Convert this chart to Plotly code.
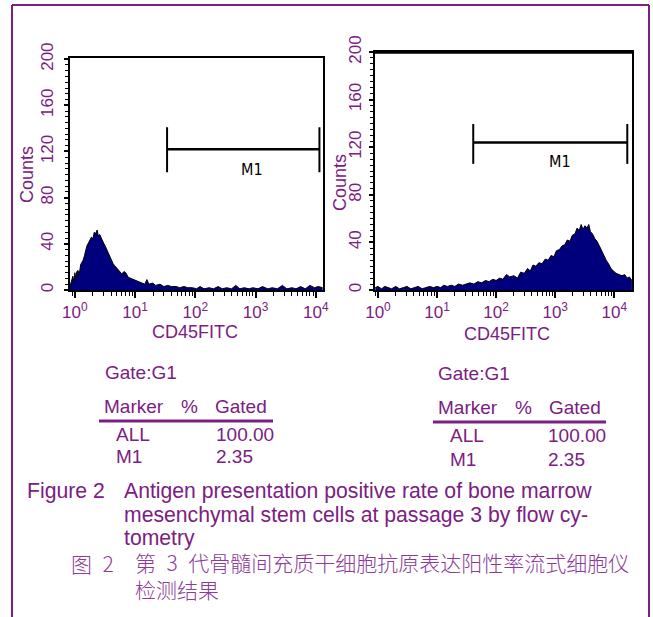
import math
import plotly.graph_objects as go

PURPLE = "#7b2082"
NAVY = "#00007c"
W, H = 653, 617

# ---------------- data ----------------
fl_left = [0.83, 0.88, 0.93, 0.97, 1.0, 1.04, 1.08, 1.13, 1.18, 1.25, 1.38, 1.45, 1.58, 1.73,
           1.9, 2.0, 2.1, 2.25, 2.35, 2.45, 2.6, 2.75, 2.9, 3.05, 3.2, 3.4, 3.6, 3.85, 4.1,
           4.3, 4.6, 5.0, 5.5, 6.0, 6.6, 7.0, 7.7, 8.5, 9.3, 10.5, 11.5, 12.8, 14.5, 15.7,
           17.0, 19.5, 22, 26, 30, 35, 40, 48, 55, 65, 75, 90, 105, 120, 140, 170, 200, 240,
           280, 330, 400, 470, 550, 650, 780, 900, 1100, 1300, 1600, 1900, 2300, 2800, 3300,
           4000, 4700, 5600, 6700, 8000, 9500, 11000, 13000]
counts_left = [3, 7, 12, 6, 15, 10, 16, 17, 13, 22, 26, 30, 38, 42,
               46, 44, 50, 49, 52, 47, 48, 45, 43, 40, 38, 35, 32, 28, 25,
               23, 21, 19, 17, 14, 16, 15, 11, 10, 9, 8, 7, 6, 5, 9,
               5, 6, 4, 5, 3, 4, 3, 3, 2, 3, 2, 2, 1, 3, 1, 2, 1, 3,
               1, 2, 1, 4, 1, 2, 1, 2, 1, 3, 1, 2, 1, 4, 1,
               2, 1, 3, 1, 4, 2, 3, 2]

fl_right = [0.9, 1.0, 1.15, 1.3, 1.5, 1.7, 2.0, 2.3, 2.7, 3.1, 3.6, 4.2, 4.8, 5.6, 6.5, 7.5,
            8.7, 10, 11.5, 13, 15, 17.5, 20, 23, 27, 31, 36, 42, 49, 57, 66, 76, 88, 100,
            115, 130, 150, 170, 200, 230, 260, 300, 340, 380, 420, 470, 530, 600, 680, 760,
            850, 950, 1050, 1180, 1300, 1450, 1600, 1780, 1950, 2150, 2350, 2550, 2750, 2950,
            3200, 3450, 3700, 3950, 4300, 4700, 5100, 5600, 6100, 6700, 7300, 8000, 8800,
            9700, 10700, 12000, 13500, 15000, 16500, 18000, 19900]
counts_right = [2, 3, 1, 3, 2, 1, 3, 1, 2, 3, 1, 2, 3, 1, 2, 3,
                2, 3, 2, 4, 3, 4, 3, 5, 4, 5, 6, 5, 7, 6, 8, 7, 9, 8,
                10, 9, 13, 11, 12, 10, 15, 14, 18, 16, 21, 20, 23, 22, 26, 25,
                29, 28, 33, 34, 37, 38, 42, 41, 46, 47, 52, 50, 55, 51,
                54, 52, 55, 49, 47, 43, 41, 37, 33, 30, 25, 22, 18,
                16, 14, 13, 12, 13, 10, 11, 8]

y_ticks = [0, 40, 80, 120, 160, 200]
decades = [1, 10, 100, 1000, 10000]
decade_labels = ["10<sup>0</sup>", "10<sup>1</sup>", "10<sup>2</sup>", "10<sup>3</sup>", "10<sup>4</sup>"]
minor_x = [k * 10 ** n for n in range(-1, 5) for k in range(2, 10)]

m1_left = [34, 11500]
m1_left_level = 122
m1_left_span = [102, 141]
m1_right = [41, 16600]
m1_right_level = 124
m1_right_span = [106, 139.5]
m1_left_label_pos = [870, 104]
m1_right_label_pos = [1200, 108]

gate_label = "Gate:G1"
table_header = ["Marker", "%", "Gated"]
table_markers = ["ALL", "M1"]
table_gated = ["100.00", "2.35"]

caption_label_en = "Figure 2"
caption_en = ["Antigen presentation positive rate of bone marrow",
              "mesenchymal stem cells at passage 3 by flow cy-",
              "tometry"]
caption_label_zh = "图\u20022"
caption_zh = ["第\u20023\u2002代骨髓间充质干细胞抗原表达阳性率流式细胞仪", "检测结果"]

# ---------------- figure ----------------
FONT = "Arial, Liberation Sans, sans-serif"
fig = go.Figure()


def px_x(p):
    return p / W


def px_y(p):
    return 1 - p / H


panels = [
    dict(fl=fl_left, counts=counts_left, m1=m1_left, lvl=m1_left_level, span=m1_left_span,
         lab=m1_left_label_pos, xa="x", ya="y"),
    dict(fl=fl_right, counts=counts_right, m1=m1_right, lvl=m1_right_level, span=m1_right_span,
         lab=m1_right_label_pos, xa="x2", ya="y2"),
]

for p in panels:
    fig.add_trace(go.Scatter(x=p["fl"], y=p["counts"], mode="lines", fill="tozeroy",
                             fillcolor=NAVY, line=dict(color="black", width=1),
                             xaxis=p["xa"], yaxis=p["ya"], hoverinfo="skip"))
    fig.add_trace(go.Scatter(x=p["m1"], y=[p["lvl"], p["lvl"]], mode="lines",
                             line=dict(color="black", width=2.5),
                             xaxis=p["xa"], yaxis=p["ya"], hoverinfo="skip"))
    for xe in p["m1"]:
        fig.add_trace(go.Scatter(x=[xe, xe], y=p["span"], mode="lines",
                                 line=dict(color="black", width=2),
                                 xaxis=p["xa"], yaxis=p["ya"], hoverinfo="skip"))
    fig.add_annotation(x=math.log10(p["lab"][0]), y=p["lab"][1], xref=p["xa"], yref=p["ya"],
                       text="M1", showarrow=False,
                       font=dict(family="Liberation Sans Narrow, DejaVu Sans Condensed, Arial",
                                 size=16, color="black"))

common_x = dict(type="log", tickmode="array", tickvals=decades, ticktext=decade_labels,
                ticks="outside", ticklen=6, tickwidth=1.5, tickcolor="black",
                showline=True, linecolor="black", linewidth=2, mirror=True,
                showgrid=False, zeroline=False, automargin=False,
                tickfont=dict(family=FONT, size=17, color=PURPLE),
                minor=dict(tickmode="array", tickvals=minor_x, ticks="outside", ticklen=4,
                           tickwidth=1, tickcolor="black", showgrid=False))
common_y = dict(tickmode="array", tickvals=y_ticks, tickangle=-90,
                ticks="outside", ticklen=4, tickwidth=1.5, tickcolor="black",
                showline=True, linecolor="black", linewidth=2, mirror=True,
                showgrid=False, zeroline=False, automargin=False,
                tickfont=dict(family=FONT, size=17, color=PURPLE),
                minor=dict(dtick=5, ticks="outside", ticklen=3, tickwidth=1,
                           tickcolor="black", showgrid=False))

fig.update_layout(
    width=W, height=H, margin=dict(l=0, r=0, t=0, b=0, pad=0),
    paper_bgcolor="white", plot_bgcolor="white", showlegend=False,
    xaxis=dict(common_x, domain=[px_x(70), px_x(323)], range=[-0.08, 4.12], anchor="y"),
    yaxis=dict(common_y, domain=[px_y(290), px_y(58)], range=[0, 201], anchor="x",
               ticklabelstandoff=4),
    xaxis2=dict(common_x, domain=[px_x(375), px_x(632)], range=[-0.05, 4.3], anchor="y2"),
    yaxis2=dict(common_y, domain=[px_y(290), px_y(52)], range=[0, 200], anchor="x2",
                ticklabelstandoff=1),
)

# thicker top edge of the right frame
fig.add_shape(type="line", xref="x2 domain", yref="y2 domain", x0=0, x1=1, y0=1, y1=1,
              line=dict(color="black", width=3.5))

# page border (purple)
for (x0, y0, x1, y1) in [(12, 5, 649, 5), (12, 5, 12, 617), (649, 5, 649, 617)]:
    fig.add_shape(type="line", xref="paper", yref="paper",
                  x0=px_x(x0), x1=px_x(x1), y0=px_y(y0), y1=px_y(y1),
                  line=dict(color=PURPLE, width=2))


def txt(x, y, s, size=19, anchor="left", family=FONT, angle=0, color=PURPLE, weight=None,
        yanchor="middle"):
    f = dict(family=family, size=size, color=color)
    if weight:
        f["weight"] = weight
    fig.add_annotation(x=px_x(x), y=px_y(y), xref="paper", yref="paper", text=s,
                       showarrow=False, xanchor=anchor, yanchor=yanchor, textangle=angle,
                       align="left", font=f)


# axis titles
txt(27, 175, "Counts", size=18, anchor="center", angle=-90)
txt(340, 183, "Counts", size=18, anchor="center", angle=-90)
txt(195, 332, "CD45FITC", size=18, anchor="center")
txt(507, 334, "CD45FITC", size=18, anchor="center")

# statistics tables
for (gx, gy, hy, ly, lx0, lx1, r1y, r2y, cx_m, cx_p, cx_g, cx_mark, cx_val) in [
    (103, 372, 406, 421, 99, 273, 434, 457, 102, 189, 241, 114, 214),
    (436, 373, 407, 422, 433, 606, 435, 459, 436, 523, 575, 448, 546),
]:
    txt(gx, gy, gate_label)
    txt(cx_m, hy, table_header[0])
    txt(cx_p, hy, table_header[1], anchor="center")
    txt(cx_g, hy, table_header[2], anchor="center")
    fig.add_shape(type="line", xref="paper", yref="paper", x0=px_x(lx0), x1=px_x(lx1),
                  y0=px_y(ly), y1=px_y(ly), line=dict(color=PURPLE, width=3))
    for (ry, mk, val) in zip([r1y, r2y], table_markers, table_gated):
        txt(cx_mark, ry, mk)
        txt(cx_val, ry, val)

# caption
txt(25, 491, caption_label_en, size=21.2)
for i, line in enumerate(caption_en):
    txt(122, 491 + 23.5 * i, line, size=21.2)
ZH = "Noto Sans CJK SC"
ZH_COLOR = "#8a3a99"
txt(69, 563, caption_label_zh, size=21, family=ZH, color=ZH_COLOR, weight=300)
txt(133, 545, "<br>".join(caption_zh), size=21, family=ZH, color=ZH_COLOR, weight=300,
    yanchor="top")

fig.write_html("out.html", config={"displayModeBar": False},
               post_script="document.body.style.margin='0';document.body.style.padding='0';"
                           "document.body.style.overflow='hidden';")
